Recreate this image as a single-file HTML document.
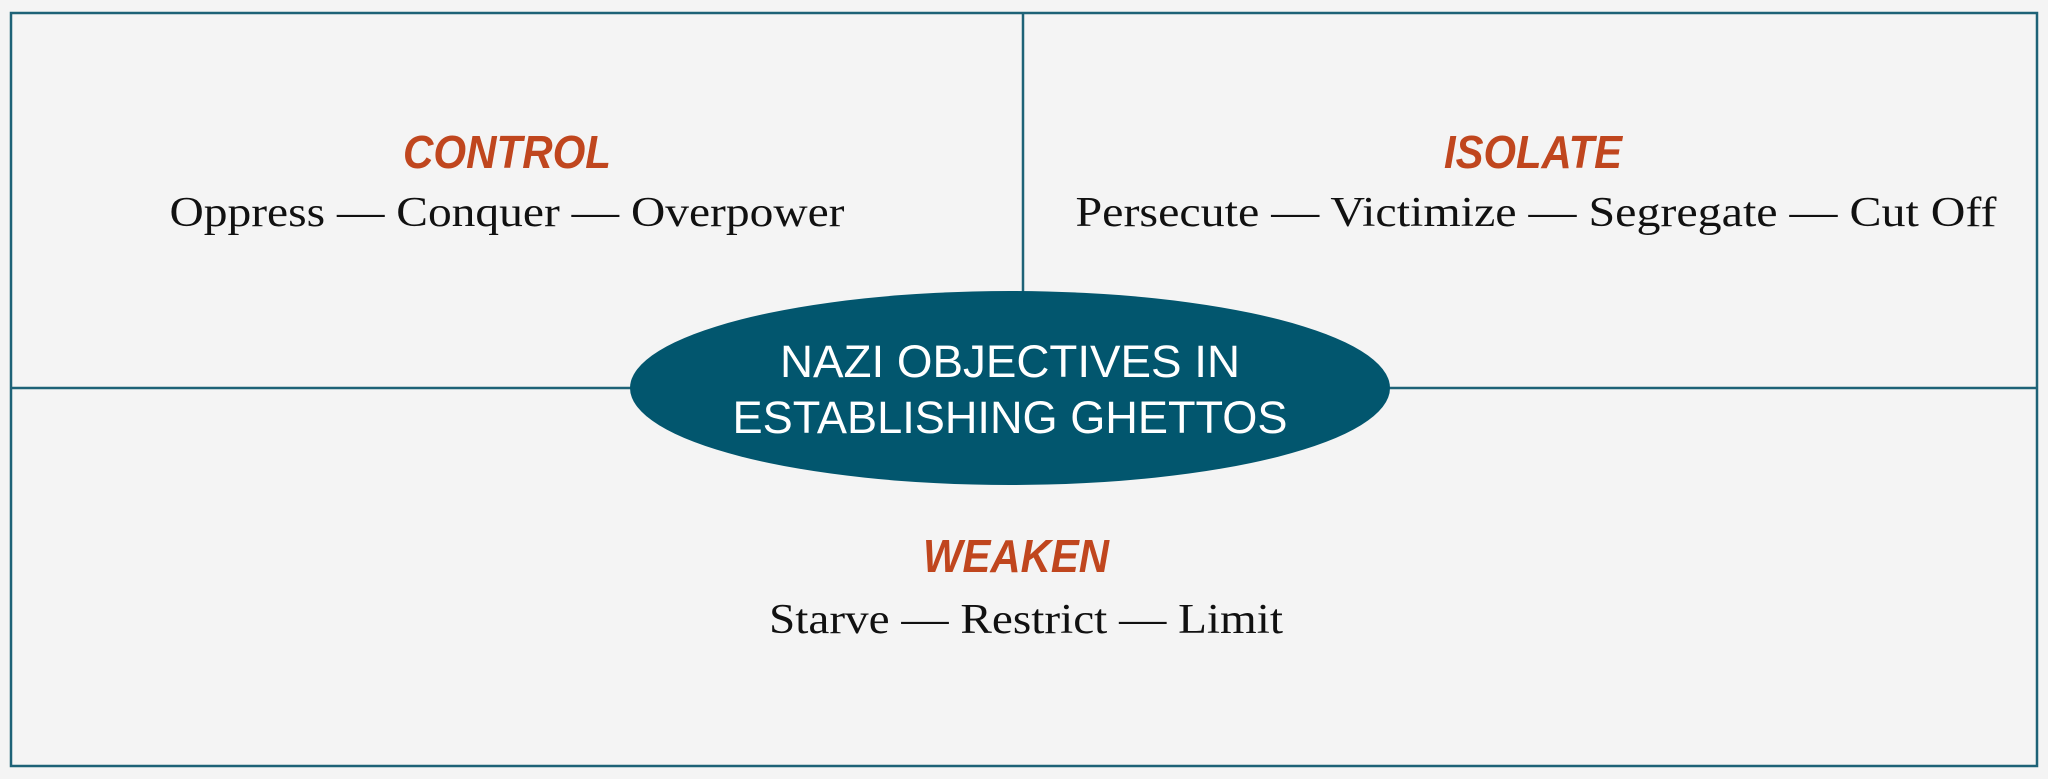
<!DOCTYPE html>
<html><head><meta charset="utf-8"><style>
html,body{margin:0;padding:0;background:#f4f4f4;}
svg{display:block}
</style></head><body>
<svg width="2048" height="779" viewBox="0 0 2048 779" xmlns="http://www.w3.org/2000/svg">
<rect x="0" y="0" width="2048" height="779" fill="#f4f4f4"/>
<rect x="11" y="13" width="2026" height="753" fill="#f4f4f4" stroke="#1d6277" stroke-width="2.5"/>
<line x1="1023" y1="13" x2="1023" y2="300" stroke="#1d6277" stroke-width="2.5"/>
<line x1="11" y1="388" x2="2037" y2="388" stroke="#1d6277" stroke-width="2.5"/>
<ellipse cx="1010" cy="388" rx="380" ry="97" fill="#02566e"/>
<g font-family="Liberation Sans, sans-serif" fill="#ffffff" font-size="45" text-anchor="middle">
<text x="1010" y="377" textLength="460" lengthAdjust="spacingAndGlyphs">NAZI OBJECTIVES IN</text>
<text x="1010" y="433" textLength="555" lengthAdjust="spacingAndGlyphs">ESTABLISHING GHETTOS</text>
</g>
<g font-family="Liberation Sans, sans-serif" fill="#c0461e" font-size="46" font-style="italic" font-weight="bold" text-anchor="middle">
<text x="507" y="168" textLength="208" lengthAdjust="spacingAndGlyphs">CONTROL</text>
<text x="1533" y="168" textLength="178" lengthAdjust="spacingAndGlyphs">ISOLATE</text>
<text x="1016" y="572" textLength="186" lengthAdjust="spacingAndGlyphs">WEAKEN</text>
</g>
<g font-family="Liberation Serif, serif" fill="#111" font-size="42" text-anchor="middle">
<text x="507" y="226" textLength="675" lengthAdjust="spacingAndGlyphs">Oppress — Conquer — Overpower</text>
<text x="1536" y="226" textLength="921" lengthAdjust="spacingAndGlyphs">Persecute — Victimize — Segregate — Cut Off</text>
<text x="1026" y="633" textLength="514" lengthAdjust="spacingAndGlyphs">Starve — Restrict — Limit</text>
</g>
</svg>
</body></html>
